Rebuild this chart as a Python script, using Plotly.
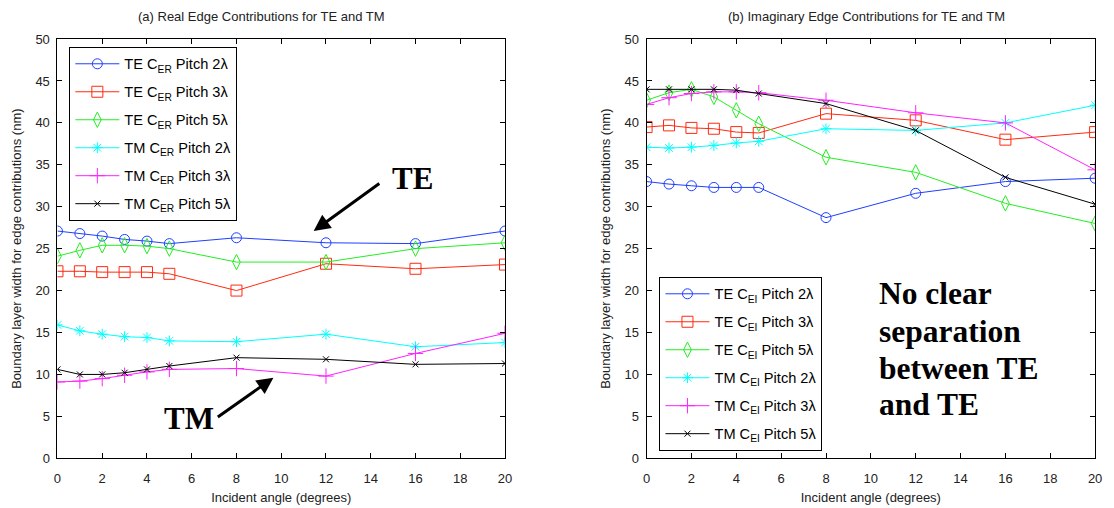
import plotly.graph_objects as go

W, H = 1114, 508

angles = [0, 1, 2, 3, 4, 5, 8, 12, 16, 20]

# (a) Real edge contributions
te_er_2 = [27.1, 26.8, 26.5, 26.1, 25.9, 25.6, 26.3, 25.7, 25.6, 27.1]
te_er_3 = [22.3, 22.3, 22.2, 22.2, 22.2, 22.0, 20.0, 23.2, 22.6, 23.1]
te_er_5 = [24.1, 24.8, 25.4, 25.4, 25.3, 25.0, 23.4, 23.4, 25.0, 25.7]
tm_er_2 = [15.9, 15.2, 14.8, 14.5, 14.4, 14.0, 13.9, 14.8, 13.3, 13.8]
tm_er_3 = [9.1, 9.2, 9.5, 9.9, 10.3, 10.6, 10.7, 9.8, 12.5, 14.9]
tm_er_5 = [10.6, 10.0, 10.0, 10.2, 10.6, 11.0, 12.0, 11.8, 11.2, 11.3]

# (b) Imaginary edge contributions
te_ei_2 = [33.0, 32.7, 32.5, 32.3, 32.3, 32.3, 28.7, 31.6, 33.0, 33.4]
te_ei_3 = [39.5, 39.7, 39.4, 39.3, 38.9, 38.8, 41.1, 40.3, 38.0, 38.9]
te_ei_5 = [42.7, 43.6, 44.0, 43.1, 41.5, 39.9, 35.9, 34.1, 30.4, 28.0]
tm_ei_2 = [37.1, 37.0, 37.1, 37.3, 37.6, 37.8, 39.3, 39.1, 40.0, 42.1]
tm_ei_3 = [42.2, 43.0, 43.5, 43.7, 43.7, 43.6, 42.7, 41.2, 40.0, 34.4]
tm_ei_5 = [44.0, 44.0, 44.0, 44.0, 43.9, 43.5, 42.3, 39.1, 33.5, 30.3]

x_ticks = [0, 2, 4, 6, 8, 10, 12, 14, 16, 18, 20]
y_ticks = [0, 5, 10, 15, 20, 25, 30, 35, 40, 45, 50]

colors = ["#1f3fff", "#ff2a10", "#22ee22", "#00ffff", "#ff22ff", "#000000"]
symbols = ["circle-open", "square-open", "diamond-tall-open", "asterisk-open",
           "cross-thin-open", "x-thin-open"]
sizes = [10, 11, 11, 9, 11, 6]
names_r = ["TE C<sub>ER</sub> Pitch 2λ", "TE C<sub>ER</sub> Pitch 3λ", "TE C<sub>ER</sub> Pitch 5λ",
           "TM C<sub>ER</sub> Pitch 2λ", "TM C<sub>ER</sub> Pitch 3λ", "TM C<sub>ER</sub> Pitch 5λ"]
names_i = ["TE C<sub>EI</sub> Pitch 2λ", "TE C<sub>EI</sub> Pitch 3λ", "TE C<sub>EI</sub> Pitch 5λ",
           "TM C<sub>EI</sub> Pitch 2λ", "TM C<sub>EI</sub> Pitch 3λ", "TM C<sub>EI</sub> Pitch 5λ"]
series_r = [te_er_2, te_er_3, te_er_5, tm_er_2, tm_er_3, tm_er_5]
series_i = [te_ei_2, te_ei_3, te_ei_5, tm_ei_2, tm_ei_3, tm_ei_5]

FONT = "Liberation Sans, Arial, sans-serif"
SERIF = "Liberation Serif, Times New Roman, serif"

def px_x(p):
    return p / W

def px_y(p):
    return 1 - p / H

fig = go.Figure()
for k in range(6):
    fig.add_trace(go.Scatter(
        x=angles, y=series_r[k], name=names_r[k], mode="lines+markers",
        line=dict(color=colors[k], width=1),
        marker=dict(symbol=symbols[k], size=sizes[k], color=colors[k],
                    line=dict(color=colors[k], width=1)),
        xaxis="x", yaxis="y", legend="legend", legendgroup="a%d" % k))
for k in range(6):
    fig.add_trace(go.Scatter(
        x=angles, y=series_i[k], name=names_i[k], mode="lines+markers",
        line=dict(color=colors[k], width=1),
        marker=dict(symbol=symbols[k], size=sizes[k], color=colors[k],
                    line=dict(color=colors[k], width=1)),
        xaxis="x2", yaxis="y2", legend="legend2", legendgroup="b%d" % k))

axis_common = dict(
    showline=True, linecolor="#000", linewidth=1, mirror="ticks",
    ticks="inside", ticklen=5, tickcolor="#000", showgrid=False, zeroline=False,
    tickfont=dict(family=FONT, size=13, color="#222"),
)
xd1 = [px_x(54), px_x(506)]
xd2 = [px_x(649), px_x(1102)]
yd = [px_y(465), px_y(33)]

xtitle = dict(text="Incident angle (degrees)", font=dict(family=FONT, size=13, color="#222"), standoff=8)
ytitle = dict(text="Boundary layer width for edge contributions (nm)",
              font=dict(family=FONT, size=13, color="#222"), standoff=10)

legend_common = dict(
    bgcolor="white", bordercolor="#000", borderwidth=1,
    font=dict(family=FONT, size=14.6, color="#000"),
    xanchor="left", yanchor="top", tracegroupgap=6, itemwidth=44,
    itemclick=False, itemdoubleclick=False,
)

fig.update_layout(
    width=W, height=H, paper_bgcolor="white", plot_bgcolor="white",
    margin=dict(l=0, r=0, t=0, b=0),
    xaxis=dict(domain=xd1, range=[0, 20], tickvals=x_ticks, title=xtitle, anchor="y",
               ticklabelstandoff=8, **axis_common),
    yaxis=dict(domain=yd, range=[0, 50], tickvals=y_ticks, title=ytitle, anchor="x",
               ticklabelstandoff=4, **axis_common),
    xaxis2=dict(domain=xd2, range=[0, 20], tickvals=x_ticks, title=xtitle, anchor="y2",
                ticklabelstandoff=8, **axis_common),
    yaxis2=dict(domain=yd, range=[0, 50], tickvals=y_ticks, title=ytitle, anchor="x2",
                ticklabelstandoff=4, **axis_common),
    legend=dict(x=px_x(66), y=px_y(41), **legend_common),
    legend2=dict(x=px_x(662), y=px_y(278), **legend_common),
    showlegend=True,
)

annotations = [
    dict(text="(a) Real Edge Contributions for TE and TM", xref="paper", yref="paper",
         x=px_x(260), y=px_y(10), showarrow=False, xanchor="center", yanchor="middle",
         font=dict(family=FONT, size=13, color="#222")),
    dict(text="(b) Imaginary Edge Contributions for TE and TM", xref="paper", yref="paper",
         x=px_x(871), y=px_y(10), showarrow=False, xanchor="center", yanchor="middle",
         font=dict(family=FONT, size=13, color="#222")),
    # TE arrow + label
    dict(text="", xref="x", yref="y", axref="x", ayref="y",
         x=11.45, y=27.1, ax=14.45, ay=32.9, showarrow=True,
         arrowhead=2, arrowsize=1.1, arrowwidth=3, arrowcolor="#000"),
    dict(text="<b>TE</b>", xref="x", yref="y", x=15.85, y=33.4, showarrow=False,
         font=dict(family=SERIF, size=31, color="#000")),
    # TM arrow + label
    dict(text="", xref="x", yref="y", axref="x", ayref="y",
         x=9.65, y=9.6, ax=7.1, ay=4.8, showarrow=True,
         arrowhead=2, arrowsize=1.1, arrowwidth=3, arrowcolor="#000"),
    dict(text="<b>TM</b>", xref="x", yref="y", x=5.9, y=4.7, showarrow=False,
         font=dict(family=SERIF, size=31, color="#000")),
]
for line, cy in zip(["No clear", "separation", "between TE", "and TE"], [295, 334, 373, 410]):
    annotations.append(dict(text="<b>%s</b>" % line, xref="paper", yref="paper",
                            x=px_x(882), y=px_y(cy), xanchor="left", yanchor="middle",
                            showarrow=False, font=dict(family=SERIF, size=31.5, color="#000")))
fig.update_layout(annotations=annotations)

fig.write_html("out.html")
